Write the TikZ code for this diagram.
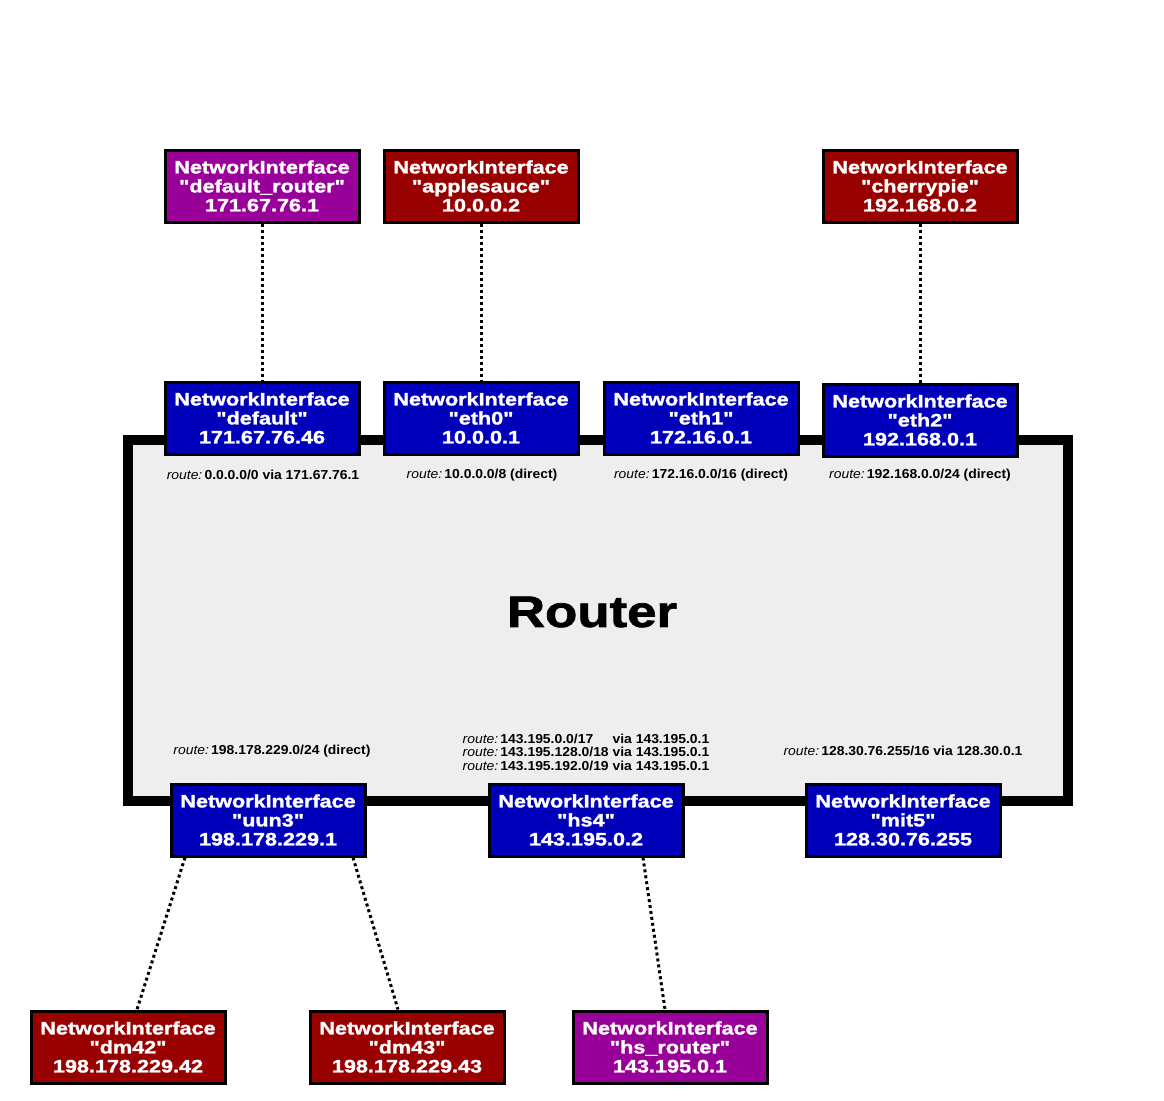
\documentclass[tikz,border=0pt]{standalone}
\usepackage{fontspec}
\setmainfont{Liberation Sans}
\newfontfamily\boxFont{Liberation Sans}[FakeStretch=1.2, FakeBold=1.6]
\newfontfamily\routeFont{Liberation Sans}[FakeStretch=1.07]
\usetikzlibrary{positioning}
\tikzstyle{diagram} = [x = 1pt, y = -1pt]
\definecolor{routerColor}{RGB}{238,238,238}
\definecolor{localColor}{RGB}{0,0,187}
\definecolor{hostColor}{RGB}{153,0,0}
\definecolor{gatewayColor}{RGB}{153,0,153}
\tikzstyle{ifaceStyle} = [draw=black, line width=3pt, text=white, align=center, minimum width=194pt, minimum height=72pt, inner sep=0pt, font=\boxFont\bfseries\fontsize{18}{19}\selectfont]
\tikzstyle{routerStyle} = [draw=black, fill=routerColor, line width=10pt, minimum width=940pt, minimum height=361pt, inner sep=0pt]
\tikzstyle{linkStyle} = [line width=3pt, dash pattern=on 3pt off 3pt]
\tikzstyle{routeText} = [font=\routeFont\fontsize{13}{12.5}\selectfont, inner sep=0pt]
\newcommand{\iface}[5]{\node [ifaceStyle, fill=#2] (#1) at (#3) {NetworkInterface\\"#4"\\#5};}
\newcommand{\route}[3]{\node [routeText] (#1) at (#2) {\textit{route:}\,\textbf{#3}};}
\newcommand{\routeLine}[2]{\textit{route:}\,\textbf{#1} & \textbf{#2}}

\begin{document}
\begin{tikzpicture}[diagram]
  \useasboundingbox (0,0) rectangle (1164,1100);

  % the router itself
  \node [routerStyle] (router) at (598,620.5) {};
  \node [font=\boxFont\bfseries\fontsize{44}{44}\selectfont] (routerName) at (592,612) {Router};

  % interfaces on the router
  \iface{default}{localColor}{262,418}{default}{171.67.76.46}
  \iface{eth0}{localColor}{481,418}{eth0}{10.0.0.1}
  \iface{eth1}{localColor}{701,418}{eth1}{172.16.0.1}
  \iface{eth2}{localColor}{920,420}{eth2}{192.168.0.1}
  \iface{uun3}{localColor}{268,820}{uun3}{198.178.229.1}
  \iface{hs4}{localColor}{586,820}{hs4}{143.195.0.2}
  \iface{mit5}{localColor}{903,820}{mit5}{128.30.76.255}

  % interfaces outside
  \iface{defaultRouter}{gatewayColor}{262,186}{default\_router}{171.67.76.1}
  \iface{applesauce}{hostColor}{481,186}{applesauce}{10.0.0.2}
  \iface{cherrypie}{hostColor}{920,186}{cherrypie}{192.168.0.2}
  \iface{dm42}{hostColor}{128,1047}{dm42}{198.178.229.42}
  \iface{dm43}{hostColor}{407,1047}{dm43}{198.178.229.43}
  \iface{hsRouter}{gatewayColor}{670,1047}{hs\_router}{143.195.0.1}

  % routing table
  \route{routeDefault}{263,475}{0.0.0.0/0 via 171.67.76.1}
  \route{routeEth0}{482,475}{10.0.0.0/8 (direct)}
  \route{routeEth1}{701,475}{172.16.0.0/16 (direct)}
  \route{routeEth2}{920,475}{192.168.0.0/24 (direct)}
  \route{routeUun3}{272,751}{198.178.229.0/24 (direct)}
  \route{routeMit5}{903,751}{128.30.76.255/16 via 128.30.0.1}
  \node [routeText] (routeHs4) at (586,754) {%
    \begin{tabular}{@{}l@{\ }l@{}}
      \routeLine{143.195.0.0/17}{via 143.195.0.1}\\
      \routeLine{143.195.128.0/18}{via 143.195.0.1}\\
      \routeLine{143.195.192.0/19}{via 143.195.0.1}
    \end{tabular}};

  % links
  \draw [linkStyle] (defaultRouter) -- (default);
  \draw [linkStyle] (applesauce) -- (eth0);
  \draw [linkStyle] (cherrypie) -- (eth2);
  \draw [linkStyle] ([xshift=-83]uun3.south) -- ([xshift=9]dm42.north);
  \draw [linkStyle] ([xshift=85]uun3.south) -- ([xshift=-9]dm43.north);
  \draw [linkStyle] ([xshift=57]hs4.south) -- ([xshift=-5]hsRouter.north);
\end{tikzpicture}
\end{document}
